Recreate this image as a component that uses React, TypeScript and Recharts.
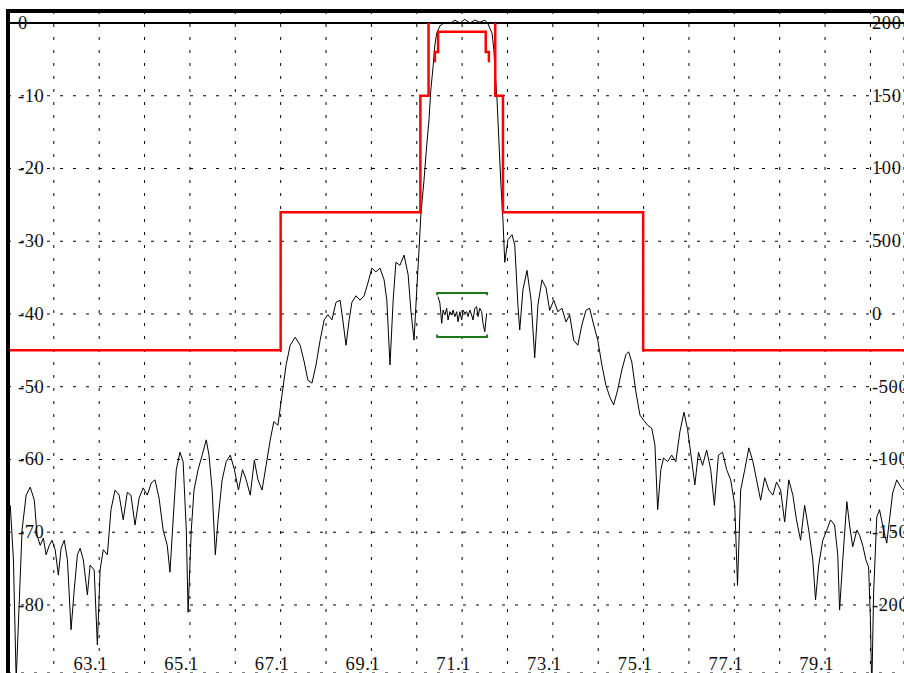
import { LineChart, Line, XAxis, YAxis, CartesianGrid, ReferenceLine } from "recharts";

// measured trace (MHz / dB)
const traceFreq = [
  61.14, 61.21, 61.27, 61.34, 61.4, 61.49, 61.58, 61.67, 61.73, 61.8, 61.87, 61.93, 62.0, 62.06, 62.13, 62.2,
  62.26, 62.33, 62.4, 62.48, 62.55, 62.62, 62.68, 62.75, 62.84, 62.9, 62.99, 63.06, 63.12, 63.19, 63.28, 63.36,
  63.45, 63.54, 63.63, 63.72, 63.8, 63.89, 63.98, 64.07, 64.16, 64.25, 64.33, 64.42, 64.51, 64.6, 64.66, 64.73,
  64.8, 64.88, 64.95, 65.02, 65.06, 65.13, 65.19, 65.28, 65.37, 65.46, 65.52, 65.59, 65.66, 65.72, 65.81, 65.9,
  65.99, 66.08, 66.17, 66.26, 66.34, 66.43, 66.52, 66.6, 66.69, 66.78, 66.87, 66.95, 67.04, 67.13, 67.22, 67.31,
  67.42, 67.53, 67.62, 67.7, 67.79, 67.88, 67.97, 68.06, 68.14, 68.23, 68.32, 68.41, 68.47, 68.54, 68.61, 68.67,
  68.76, 68.85, 68.94, 69.03, 69.11, 69.2, 69.29, 69.38, 69.44, 69.51, 69.58, 69.64, 69.73, 69.82, 69.91, 69.97,
  70.04, 70.1, 70.15, 70.19, 70.26, 70.32, 70.37, 70.41, 70.46, 70.5, 70.54, 70.61, 70.72, 70.83, 70.94, 71.05,
  71.16, 71.27, 71.38, 71.49, 71.6, 71.67, 71.71, 71.76, 71.8, 71.82, 71.87, 71.91, 71.95, 72.0, 72.04, 72.11,
  72.2, 72.26, 72.33, 72.37, 72.44, 72.53, 72.62, 72.7, 72.77, 72.86, 72.95, 73.03, 73.12, 73.21, 73.3, 73.39,
  73.47, 73.56, 73.65, 73.74, 73.83, 73.91, 74.0, 74.09, 74.18, 74.27, 74.36, 74.44, 74.53, 74.62, 74.71, 74.77,
  74.84, 74.93, 75.02, 75.1, 75.19, 75.28, 75.35, 75.41, 75.48, 75.54, 75.63, 75.72, 75.81, 75.9, 75.99, 76.07,
  76.16, 76.23, 76.31, 76.4, 76.49, 76.58, 76.66, 76.75, 76.84, 76.93, 77.02, 77.11, 77.17, 77.24, 77.33, 77.42,
  77.51, 77.59, 77.68, 77.77, 77.86, 77.95, 78.03, 78.12, 78.21, 78.3, 78.39, 78.47, 78.56, 78.65, 78.74, 78.83,
  78.89, 78.96, 79.05, 79.14, 79.22, 79.31, 79.38, 79.42, 79.49, 79.58, 79.64, 79.71, 79.8, 79.86, 79.93, 80.0,
  80.06, 80.1, 80.13, 80.17, 80.24, 80.3, 80.39, 80.46, 80.52, 80.59, 80.68, 80.77, 80.84,
];
const traceDb = [
  -66.3, -73.8, -90.3, -79.3, -69.7, -64.9, -63.8, -65.6, -70.4, -71.8, -70.8, -73.1, -71.8, -71.1, -72.4, -75.9,
  -72.2, -71.1, -73.8, -83.4, -77.9, -73.1, -72.2, -73.8, -78.6, -74.5, -75.2, -85.5, -75.2, -72.4, -73.1, -66.9,
  -64.2, -64.9, -68.3, -64.5, -64.9, -69.0, -65.3, -63.9, -64.9, -63.2, -62.8, -65.3, -69.7, -71.8, -75.5, -68.3,
  -61.4, -59.0, -60.3, -69.7, -81.0, -69.7, -64.2, -61.4, -59.4, -57.3, -59.4, -64.2, -73.1, -68.3, -62.8, -60.3,
  -59.4, -61.4, -64.2, -61.4, -62.8, -64.9, -60.1, -62.8, -64.2, -60.8, -57.3, -54.8, -55.3, -51.1, -47.0, -44.3,
  -43.2, -44.3, -46.6, -49.1, -49.5, -47.0, -43.6, -40.8, -40.1, -40.8, -38.4, -38.1, -40.8, -44.3, -40.8, -38.4,
  -37.5, -38.1, -37.5, -35.6, -33.7, -34.2, -33.7, -35.3, -38.1, -47.0, -38.1, -32.9, -33.3, -31.9, -34.6, -39.5,
  -43.6, -36.7, -31.2, -26.4, -21.6, -16.8, -13.3, -9.2, -6.0, -3.0, -1.4, -0.4, 0.1, -0.1, 0.4, 0.0,
  0.5, 0.0, 0.4, 0.1, 0.4, -0.1, -0.7, -1.4, -3.7, -6.0, -10.6, -16.1, -21.6, -27.1, -32.9, -29.8,
  -29.1, -30.5, -38.8, -42.2, -36.7, -34.0, -38.1, -46.0, -38.8, -35.3, -36.4, -39.5, -38.1, -39.7, -39.2, -41.1,
  -40.1, -43.6, -44.3, -41.5, -39.5, -39.2, -41.5, -43.6, -47.0, -49.8, -51.5, -52.5, -50.4, -47.7, -45.6, -45.2,
  -46.6, -50.7, -53.9, -54.6, -55.3, -55.7, -58.0, -66.9, -61.4, -59.8, -60.3, -59.4, -60.3, -56.2, -53.5, -55.9,
  -60.1, -63.5, -59.0, -60.8, -58.7, -61.4, -66.3, -59.4, -59.0, -61.4, -62.8, -66.3, -77.3, -64.2, -61.4, -58.4,
  -60.3, -62.8, -65.6, -62.5, -64.2, -64.9, -63.1, -64.2, -68.6, -62.8, -64.9, -68.3, -71.1, -66.3, -69.7, -73.8,
  -79.3, -74.5, -71.1, -69.7, -68.3, -69.0, -73.1, -80.7, -73.8, -65.8, -69.0, -72.0, -69.7, -70.4, -71.8, -73.8,
  -74.8, -82.1, -91.7, -78.4, -67.9, -66.9, -69.7, -71.5, -68.3, -64.6, -62.8, -63.8, -64.2,
];

// limit mask (dB)
const maskLeftFreq = [61.09, 67.1, 67.1, 70.18, 70.18, 70.36, 70.36];
const maskLeftDb = [-45, -45, -26, -26, -10, -10, 0];
const maskRightFreq = [71.83, 71.83, 72.0, 72.0, 75.09, 75.09, 80.84];
const maskRightDb = [0, -10, -10, -26, -26, -45, -45];
const innerFreq = [70.5, 70.5, 70.57, 70.57, 71.62, 71.62, 71.69, 71.69];
const innerDb = [-5.4, -4, -4, -1.2, -1.2, -4, -4, -5.4];

// group delay ripple (right axis)
const rippleFreq = [
  70.57, 70.61, 70.65, 70.68, 70.72, 70.76, 70.79, 70.83, 70.87, 70.9, 70.94, 70.98, 71.01, 71.05, 71.09,
  71.12, 71.16, 71.2, 71.23, 71.27, 71.31, 71.34, 71.38, 71.42, 71.45, 71.49, 71.53, 71.56, 71.6, 71.64,
];
const rippleGd = [
  11.9, 7.4, -6.4, 2.7, -0.7, 3.9, -4.1, 1.6, -0.7, 2.7, -1.8, 1.6, -5.3, 1.6, -4.1,
  2.7, 0.5, 1.6, -1.8, 2.7, -0.7, -4.1, 3.9, 5.0, -1.8, 3.9, 1.6, -6.4, -12.2, 0.5,
];
const limitFreq = [70.55, 70.55, 71.65, 71.65];
const upperLimit = [12.8, 14.5, 14.5, 12.8];
const lowerLimit = [-14.1, -15.8, -15.8, -14.1];

const gridFreq = [62.1, 63.1, 64.1, 65.1, 66.1, 67.1, 68.1, 69.1, 70.1, 71.1, 72.1, 73.1, 74.1, 75.1, 76.1, 77.1, 78.1, 79.1, 80.1];
const labelFreq = ["63.1", "65.1", "67.1", "69.1", "71.1", "73.1", "75.1", "77.1", "79.1"];
const dbTicks = [0, -10, -20, -30, -40, -50, -60, -70, -80];
const gdTicks = [200, 150, 100, 50, 0, -50, -100, -150, -200];
const gdLabels = ["200", "150", "100", "500", "0", "-500", "-100", "-150", "-200"];

const zip = (xs: number[], ys: number[]) => xs.map((f, i) => ({ f, v: ys[i] }));

const trace = zip(traceFreq, traceDb);
const maskLeft = zip(maskLeftFreq, maskLeftDb);
const maskRight = zip(maskRightFreq, maskRightDb);
const inner = zip(innerFreq, innerDb);
const ripple = zip(rippleFreq, rippleGd);
const upper = zip(limitFreq, upperLimit);
const lower = zip(limitFreq, lowerLimit);

const font = { fontFamily: "'Liberation Serif', 'Times New Roman', serif", fontSize: 18.5, letterSpacing: 0.6, fill: "#111" };

const XTick = (props: any) => {
  const { x, payload } = props;
  const label = Number(payload.value).toFixed(1);
  if (!labelFreq.includes(label)) return <g />;
  return (
    <text x={x + 9} y={664} textAnchor="end" dominantBaseline="central" {...font}>
      {label}
    </text>
  );
};

const LeftTick = (props: any) => (
  <text x={18} y={props.y} dominantBaseline="central" {...font}>
    {props.payload.value}
  </text>
);

const RightTick = (props: any) => {
  const i = gdTicks.indexOf(props.payload.value);
  return (
    <text x={872} y={props.y} dominantBaseline="central" {...font}>
      {gdLabels[i]}
    </text>
  );
};

export default function App() {
  return (
    <div style={{ position: "relative", width: 904, height: 673, overflow: "hidden", background: "#fff" }}>
      <style>{`body{margin:0}`}</style>
      <LineChart width={905} height={674} margin={{ top: 11, right: 0, bottom: 0, left: 7 }}>
        <CartesianGrid yAxisId="db" stroke="#000" strokeDasharray="3 10" strokeWidth={1} />
        <XAxis
          type="number"
          dataKey="f"
          domain={[61.09, 80.84]}
          allowDataOverflow
          ticks={gridFreq}
          interval={0}
          height={1}
          axisLine={false}
          tickLine={false}
          tick={(p: any) => <XTick {...p} />}
        />
        <YAxis
          yAxisId="db"
          type="number"
          domain={[-89.35, 1.65]}
          allowDataOverflow
          ticks={dbTicks}
          interval={0}
          width={1}
          axisLine={false}
          tickLine={false}
          tick={(p: any) => <LeftTick {...p} />}
        />
        <YAxis
          yAxisId="gd"
          orientation="right"
          type="number"
          domain={[-246.75, 208.25]}
          allowDataOverflow
          ticks={gdTicks}
          interval={0}
          width={1}
          axisLine={false}
          tickLine={false}
          tick={(p: any) => <RightTick {...p} />}
        />
        <ReferenceLine yAxisId="db" y={0} stroke="#000" strokeWidth={2} />
        <Line yAxisId="db" data={trace} dataKey="v" type="linear" stroke="#000" strokeWidth={1} dot={false} isAnimationActive={false} />
        <Line yAxisId="db" data={maskLeft} dataKey="v" type="linear" stroke="#ff0000" strokeWidth={2.5} dot={false} isAnimationActive={false} />
        <Line yAxisId="db" data={maskRight} dataKey="v" type="linear" stroke="#ff0000" strokeWidth={2.5} dot={false} isAnimationActive={false} />
        <Line yAxisId="db" data={inner} dataKey="v" type="linear" stroke="#ff0000" strokeWidth={2.5} dot={false} isAnimationActive={false} />
        <Line yAxisId="gd" data={ripple} dataKey="v" type="linear" stroke="#000" strokeWidth={1} dot={false} isAnimationActive={false} />
        <Line yAxisId="gd" data={upper} dataKey="v" type="linear" stroke="#1e7a1e" strokeWidth={2} dot={false} isAnimationActive={false} />
        <Line yAxisId="gd" data={lower} dataKey="v" type="linear" stroke="#1e7a1e" strokeWidth={2} dot={false} isAnimationActive={false} />
      </LineChart>
      <div style={{ position: "absolute", left: 6, top: 9, width: 4, height: 664, background: "#000" }} />
      <div style={{ position: "absolute", left: 6, top: 9, width: 898, height: 4, background: "#000" }} />
    </div>
  );
}
